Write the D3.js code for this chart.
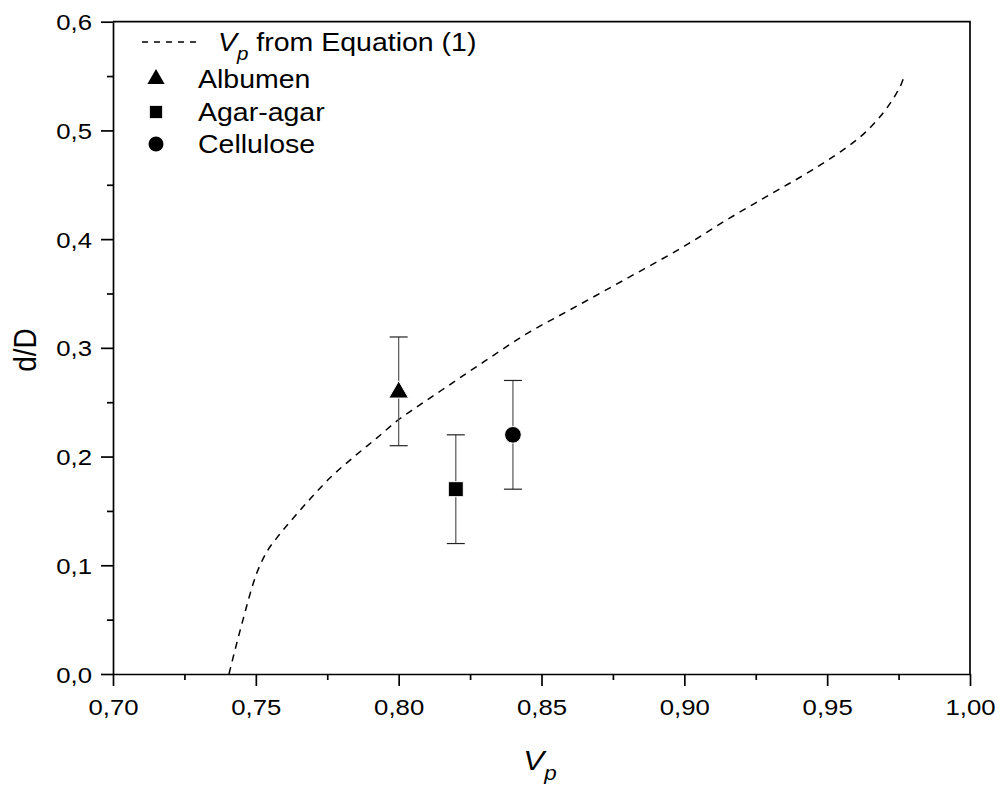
<!DOCTYPE html>
<html>
<head>
<meta charset="utf-8">
<script src="https://cdn.jsdelivr.net/npm/d3@7"></script>
<style>
  body { margin: 0; background: #fff; }
  text { font-family: "Liberation Sans", Arial, sans-serif; fill: #000; }
</style>
</head>
<body>
<svg id="chart" width="1000" height="794"></svg>
<script>
// curve V_p from Equation (1)
const curveVp = [0.7406, 0.745, 0.7503, 0.7526, 0.7585, 0.762, 0.769, 0.776, 0.784, 0.7923, 0.8005, 0.806, 0.815, 0.83, 0.8442, 0.86, 0.88, 0.90, 0.915, 0.93, 0.945, 0.955, 0.962, 0.967, 0.971, 0.974, 0.976, 0.977];
const curveDD = [0.0, 0.045, 0.0926, 0.1064, 0.129, 0.140, 0.161, 0.1805, 0.199, 0.217, 0.235, 0.245, 0.261, 0.2875, 0.312, 0.335, 0.364, 0.3935, 0.418, 0.441, 0.464, 0.481, 0.495, 0.508, 0.521, 0.533, 0.543, 0.550];

// measured samples
const materials = ["Albumen", "Agar-agar", "Cellulose"];
const sampleVp = [0.80, 0.82, 0.84];
const sampleDD = [0.26, 0.17, 0.22];
const sampleErr = [0.05, 0.05, 0.05];
const shapes = [d3.symbolTriangle, d3.symbolSquare, d3.symbolCircle];

const xTicks = [0.70, 0.75, 0.80, 0.85, 0.90, 0.95, 1.00];
const yTicks = [0.0, 0.1, 0.2, 0.3, 0.4, 0.5, 0.6];

const svg = d3.select("#chart");
const plotL = 113, plotR = 970, plotT = 21.7, plotB = 674;
const stretch = 1.12;

const x = d3.scaleLinear().domain([0.70, 1.00]).range([plotL, plotR]);
const y = d3.scaleLinear().domain([0, 0.6]).range([plotB, plotT]);

const comma = f => v => d3.format(f)(v).replace(".", ",");

// minor ticks
svg.append("g")
  .attr("transform", `translate(0,${plotB})`)
  .call(d3.axisBottom(x).tickValues(d3.range(0.725, 1.0, 0.05)).tickSize(6).tickFormat(""))
  .call(g => g.select(".domain").remove());
svg.append("g")
  .attr("transform", `translate(${plotL},0)`)
  .call(d3.axisLeft(y).tickValues(d3.range(0.05, 0.6, 0.1)).tickSize(6).tickFormat(""))
  .call(g => g.select(".domain").remove());

// major ticks
const xAxis = svg.append("g")
  .attr("transform", `translate(0,${plotB})`)
  .call(d3.axisBottom(x).tickValues(xTicks).tickSize(12).tickSizeOuter(0).tickFormat(comma(".2f")));
const yAxis = svg.append("g")
  .attr("transform", `translate(${plotL},0)`)
  .call(d3.axisLeft(y).tickValues(yTicks).tickSize(12).tickSizeOuter(0).tickFormat(comma(".1f")));

svg.selectAll(".tick line").attr("stroke", "#000").attr("stroke-width", 1.7);
svg.selectAll(".domain").attr("stroke-width", 1.7);

xAxis.selectAll(".tick text")
  .attr("font-size", 23).attr("y", 0).attr("dy", 0)
  .attr("transform", `translate(0,41) scale(${stretch},1)`);
yAxis.selectAll(".tick text")
  .attr("font-size", 23).attr("x", 0).attr("dy", "0.35em")
  .attr("transform", `translate(-21,0) scale(${stretch},1)`);

// frame top/right
svg.append("path")
  .attr("d", `M${plotL},${plotT}H${plotR}V${plotB}`)
  .attr("fill", "none").attr("stroke", "#000").attr("stroke-width", 1.7);

// axis titles
const xt = svg.append("text")
  .attr("transform", `translate(540,770) scale(${stretch},1)`)
  .attr("text-anchor", "middle").attr("font-size", 28);
xt.append("tspan").attr("font-style", "italic").text("V");
xt.append("tspan").attr("font-style", "italic").attr("font-size", 20).attr("dy", 10).text("p");

svg.append("text")
  .attr("transform", `translate(36,350) rotate(-90) scale(1,${stretch})`)
  .attr("text-anchor", "middle").attr("font-size", 28)
  .text("d/D");

// dashed curve
const line = d3.line().x(d => x(d[0])).y(d => y(d[1])).curve(d3.curveMonotoneX);
svg.append("path")
  .datum(curveVp.map((v, i) => [v, curveDD[i]]))
  .attr("d", line)
  .attr("fill", "none").attr("stroke", "#000").attr("stroke-width", 1.5)
  .attr("stroke-dasharray", "7,6");

// error bars
const bars = svg.append("g").attr("stroke", "#555").attr("stroke-width", 1.2);
materials.forEach((m, i) => {
  const cx = x(sampleVp[i]);
  const lo = y(sampleDD[i] - sampleErr[i]), hi = y(sampleDD[i] + sampleErr[i]);
  bars.append("line").attr("x1", cx).attr("x2", cx).attr("y1", lo).attr("y2", hi);
  bars.append("line").attr("x1", cx - 9).attr("x2", cx + 9).attr("y1", lo).attr("y2", lo).attr("stroke", "#222");
  bars.append("line").attr("x1", cx - 9).attr("x2", cx + 9).attr("y1", hi).attr("y2", hi).attr("stroke", "#222");
});

// markers
const markerSize = [170, 225, 219];
svg.append("g").selectAll("path")
  .data(materials)
  .enter().append("path")
  .attr("transform", (d, i) => `translate(${x(sampleVp[i])},${y(sampleDD[i]) + (i === 0 ? 1 : 0)})`)
  .attr("d", (d, i) => d3.symbol().type(shapes[i]).size(markerSize[i])())
  .attr("fill", "#000")
  .attr("stroke", "#fff").attr("stroke-width", 1);

// legend
const legend = svg.append("g");
legend.append("line")
  .attr("x1", 142).attr("x2", 202).attr("y1", 42).attr("y2", 42)
  .attr("stroke", "#000").attr("stroke-width", 1.5).attr("stroke-dasharray", "6,6");
const lt = legend.append("text")
  .attr("transform", `translate(218,51) scale(1.14,1)`)
  .attr("font-size", 25);
lt.append("tspan").attr("font-style", "italic").text("V");
lt.append("tspan").attr("font-style", "italic").attr("font-size", 18).attr("dy", 9).text("p");
lt.append("tspan").attr("dy", -9).text(" from Equation (1)");

const legendY = [79, 112, 144];
const legendSize = [130, 150, 177];
materials.forEach((m, i) => {
  legend.append("path")
    .attr("transform", `translate(156,${legendY[i]})`)
    .attr("d", d3.symbol().type(shapes[i]).size(legendSize[i])())
    .attr("fill", "#000");
  legend.append("text")
    .attr("transform", `translate(198,${legendY[i] + 9}) scale(1.14,1)`)
    .attr("font-size", 25)
    .text(m);
});
</script>
</body>
</html>
